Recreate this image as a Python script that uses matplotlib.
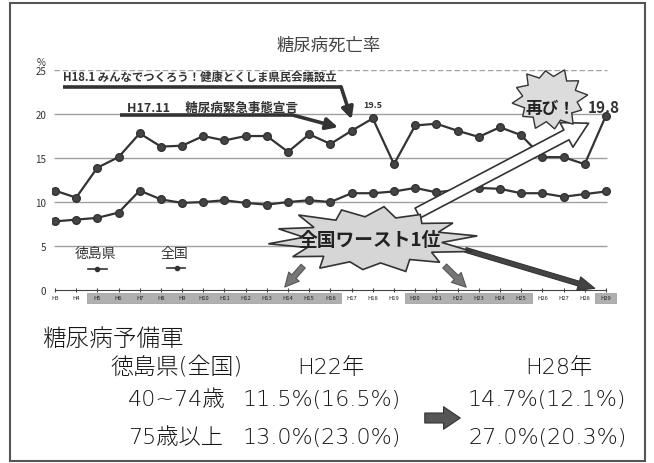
import numpy as np
import matplotlib.pyplot as plt
from matplotlib.patches import Polygon, Rectangle, FancyArrowPatch
import matplotlib.transforms as mtransforms

plt.rcParams['font.family'] = ['Noto Sans CJK JP', 'DejaVu Sans']

# 年次
nendo = ['H3', 'H4', 'H5', 'H6', 'H7', 'H8', 'H9', 'H10', 'H11', 'H12', 'H13', 'H14',
         'H15', 'H16', 'H17', 'H18', 'H19', 'H20', 'H21', 'H22', 'H23', 'H24', 'H25',
         'H26', 'H27', 'H28', 'H29']
# 網掛けの年次 (最初と最後)
amikake = [('H5', 'H16'), ('H20', 'H25'), ('H29', 'H29')]

# 糖尿病死亡率
tokushima = [11.3, 10.5, 13.9, 15.1, 17.8, 16.3, 16.4, 17.5, 17.0, 17.5, 17.5, 15.7, 17.7,
             16.6, 18.1, 19.5, 14.3, 18.7, 18.9, 18.1, 17.4, 18.5, 17.6, 15.1, 15.1, 14.3,
             19.8]
zenkoku = [7.8, 8.0, 8.2, 8.8, 11.3, 10.3, 9.9, 10.0, 10.2, 9.9, 9.7, 10.0, 10.2, 10.0,
           11.0, 11.0, 11.2, 11.6, 11.1, 11.4, 11.6, 11.5, 11.0, 11.0, 10.6, 10.9, 11.2]

# 糖尿病予備軍
kubun = ['40~74歳', '75歳以上']
h22 = ['11.5%(16.5%)', '13.0%(23.0%)']
h28 = ['14.7%(12.1%)', '27.0%(20.3%)']

DARK = '#333333'

fig = plt.figure(figsize=(6.54, 4.64), dpi=100)
ax = fig.add_axes([0.0795, 0.3728, 0.8547, 0.4741])
ax.set_xlim(-0.14, 26.24)
ax.set_ylim(0, 25)

x = np.arange(len(nendo))

# 目盛り線
ax.hlines([5, 10, 15, 20], -0.05, 26.05, color='#a0a0a0', lw=1.0, zorder=1)
ax.hlines(25, -0.05, 26.05, color='#a0a0a0', lw=1.0, ls=(0, (4, 2)), zorder=1)

ax.plot(x, tokushima, color=DARK, lw=1.6, marker='o', ms=5.5, mfc='#444444', mec=DARK, zorder=3)
ax.plot(x, zenkoku, color=DARK, lw=1.6, marker='o', ms=5.5, mfc='#444444', mec=DARK, zorder=3)

for s in ['left', 'top', 'right']:
    ax.spines[s].set_visible(False)
ax.spines['bottom'].set_bounds(0, 26)
ax.spines['bottom'].set_color('#444444')

ax.set_yticks([0, 5, 10, 15, 20, 25])
ax.set_yticklabels(['0', '5', '10', '15', '20', '25'], fontsize=7, color=DARK)
ax.tick_params(axis='y', length=0, pad=4)
ax.set_xticks(x)
ax.set_xticklabels(nendo, fontsize=4.2, color='#222222')
ax.tick_params(axis='x', length=3, direction='inout', pad=2, color='#444444')
ax.text(-0.65, 25.9, '%', fontsize=7, color=DARK, ha='center', va='center')

# 年次ラベルの網掛け
trans = mtransforms.blended_transform_factory(ax.transData, ax.transAxes)
for a, b in amikake:
    i0, i1 = nendo.index(a), nendo.index(b)
    ax.add_patch(Rectangle((i0 - 0.5, -0.06), i1 - i0 + 1, 0.045, transform=trans,
                           facecolor='#b0b0b0', edgecolor='#888888', lw=0.4,
                           clip_on=False, zorder=0.5))

# 凡例
ax.text(1.93, 4.2, '徳島県', fontsize=10, color=DARK, ha='center', va='center')
ax.plot([1.56, 2.45], [2.4, 2.4], color=DARK, lw=1.2)
ax.plot([2.0], [2.4], 'o', color=DARK, ms=3)
ax.text(5.62, 4.2, '全国', fontsize=10, color=DARK, ha='center', va='center')
ax.plot([5.29, 6.13], [2.5, 2.5], color=DARK, lw=1.2)
ax.plot([5.75], [2.5], 'o', color=DARK, ms=3)

# 数値ラベル
ax.text(15, 21.1, '19.5', fontsize=6.5, fontweight='bold', color=DARK, ha='center', va='center')
ax.text(25.9, 20.8, '19.8', fontsize=11, fontweight='bold', color=DARK, ha='center', va='center')

# 施策の吹き出し線
ax.text(0.38, 24.3, 'H18.1 みんなでつくろう！健康とくしま県民会議設立', fontsize=8.2,
        fontweight='bold', color=DARK, ha='left', va='center')
ax.plot([0.38, 13.5], [23.1, 23.1], color=DARK, lw=2.6, solid_capstyle='butt')
ax.annotate('', xy=(14.0, 19.4), xytext=(13.5, 23.1),
            arrowprops=dict(arrowstyle='-|>,head_width=0.35,head_length=0.7', color=DARK,
                            lw=2.6, shrinkA=0, shrinkB=0))
ax.text(3.4, 20.7, 'H17.11　 糖尿病緊急事態宣言', fontsize=9, fontweight='bold',
        color=DARK, ha='left', va='center')
ax.plot([3.07, 11.2], [19.9, 19.9], color=DARK, lw=2.6, solid_capstyle='butt')
ax.annotate('', xy=(13.36, 18.5), xytext=(11.2, 19.9),
            arrowprops=dict(arrowstyle='-|>,head_width=0.35,head_length=0.7', color=DARK,
                            lw=2.6, shrinkA=0, shrinkB=0))


def burst(cx, cy, rx, ry, tips, inner, **kw):
    n = len(tips)
    ang = np.linspace(0, 2 * np.pi, 2 * n, endpoint=False) + np.pi / (2 * n)
    r = np.empty(2 * n)
    r[0::2] = tips
    r[1::2] = inner
    pts = np.column_stack([cx + rx * r * np.cos(ang), cy + ry * r * np.sin(ang)])
    ax.add_patch(Polygon(pts, closed=True, clip_on=False, **kw))


# 矢印 (全国ワースト1位から)
ax.add_patch(FancyArrowPatch((17.0, 8.6), (25.3, 19.1), clip_on=False, zorder=4,
                             arrowstyle='simple,head_width=2.0,head_length=1.8,tail_width=0.8',
                             mutation_scale=10, facecolor='white', edgecolor=DARK, lw=1.2))
ax.add_patch(FancyArrowPatch((11.8, 2.95), (10.76, 0.1), clip_on=False, zorder=4,
                             arrowstyle='simple,head_width=1.0,head_length=1.0,tail_width=0.4',
                             mutation_scale=10, facecolor='#777777', edgecolor='#555555', lw=0.8))
ax.add_patch(FancyArrowPatch((18.3, 2.95), (19.5, 0.1), clip_on=False, zorder=4,
                             arrowstyle='simple,head_width=1.0,head_length=1.0,tail_width=0.4',
                             mutation_scale=10, facecolor='#777777', edgecolor='#555555', lw=0.8))
ax.add_patch(FancyArrowPatch((19.25, 4.65), (25.6, 0.1), clip_on=False, zorder=4,
                             arrowstyle='simple,head_width=1.0,head_length=1.2,tail_width=0.35',
                             mutation_scale=10, facecolor='#444444', edgecolor=DARK, lw=0.8))

burst(15.0, 5.7, 4.96, 4.0,
      [1.0, 0.9, 0.85, 0.95, 0.9, 1.0, 0.95, 1.0, 0.9, 0.95, 0.85, 0.95, 0.9, 1.0],
      0.66, facecolor='#d6d6d6', edgecolor=DARK, lw=1.2, zorder=5)
ax.text(14.86, 5.75, '全国ワースト1位', fontsize=13.5, fontweight='bold', color='#222222',
        ha='center', va='center', zorder=6)

burst(23.36, 21.7, 1.8, 3.6,
      [1.0, 0.95, 1.0, 0.9, 1.0, 0.95, 1.0, 0.9, 1.0, 0.95, 1.0, 0.9],
      0.72, facecolor='#dcdcdc', edgecolor=DARK, lw=1.0, zorder=5)
ax.text(23.36, 20.7, '再び！', fontsize=12, fontweight='bold', color='#222222',
        ha='center', va='center', zorder=6)

# タイトル
fig.text(329 / 654, 1 - 46 / 464, '糖尿病死亡率', fontsize=12.5, color='#444444',
         ha='center', va='center')

# 糖尿病予備軍の表
HYO = ['DejaVu Sans', 'Noto Sans CJK JP']


def ftext(px, py, s, size=16):
    fig.text(px / 654, 1 - py / 464, s, color='#151515', va='center', ha='left',
             fontsize=size, family=HYO, fontweight='light')


ftext(42, 339, '糖尿病予備軍', 17)
ftext(110, 368, '徳島県(全国)', 16.5)
ftext(297, 368, 'H22年')
ftext(525, 368, 'H28年')
for k in range(len(kubun)):
    y = 400 + 38 * k
    ftext(128, y, kubun[k])
    ftext(243, y, h22[k])
    ftext(468, y, h28[k])

fig.patches.append(FancyArrowPatch((422, 464 - 419), (463, 464 - 419), transform=None,
                                   arrowstyle='simple,head_width=1.35,head_length=1.0,tail_width=0.6',
                                   mutation_scale=12, facecolor='#555555', edgecolor='#333333',
                                   lw=0.8))

# 外枠
fig.patches.append(Rectangle((10 / 654, 2 / 464), 635 / 654, 458 / 464,
                             transform=fig.transFigure, fill=False, edgecolor='#555555', lw=1.5))

fig.savefig('out.png', dpi=100)
